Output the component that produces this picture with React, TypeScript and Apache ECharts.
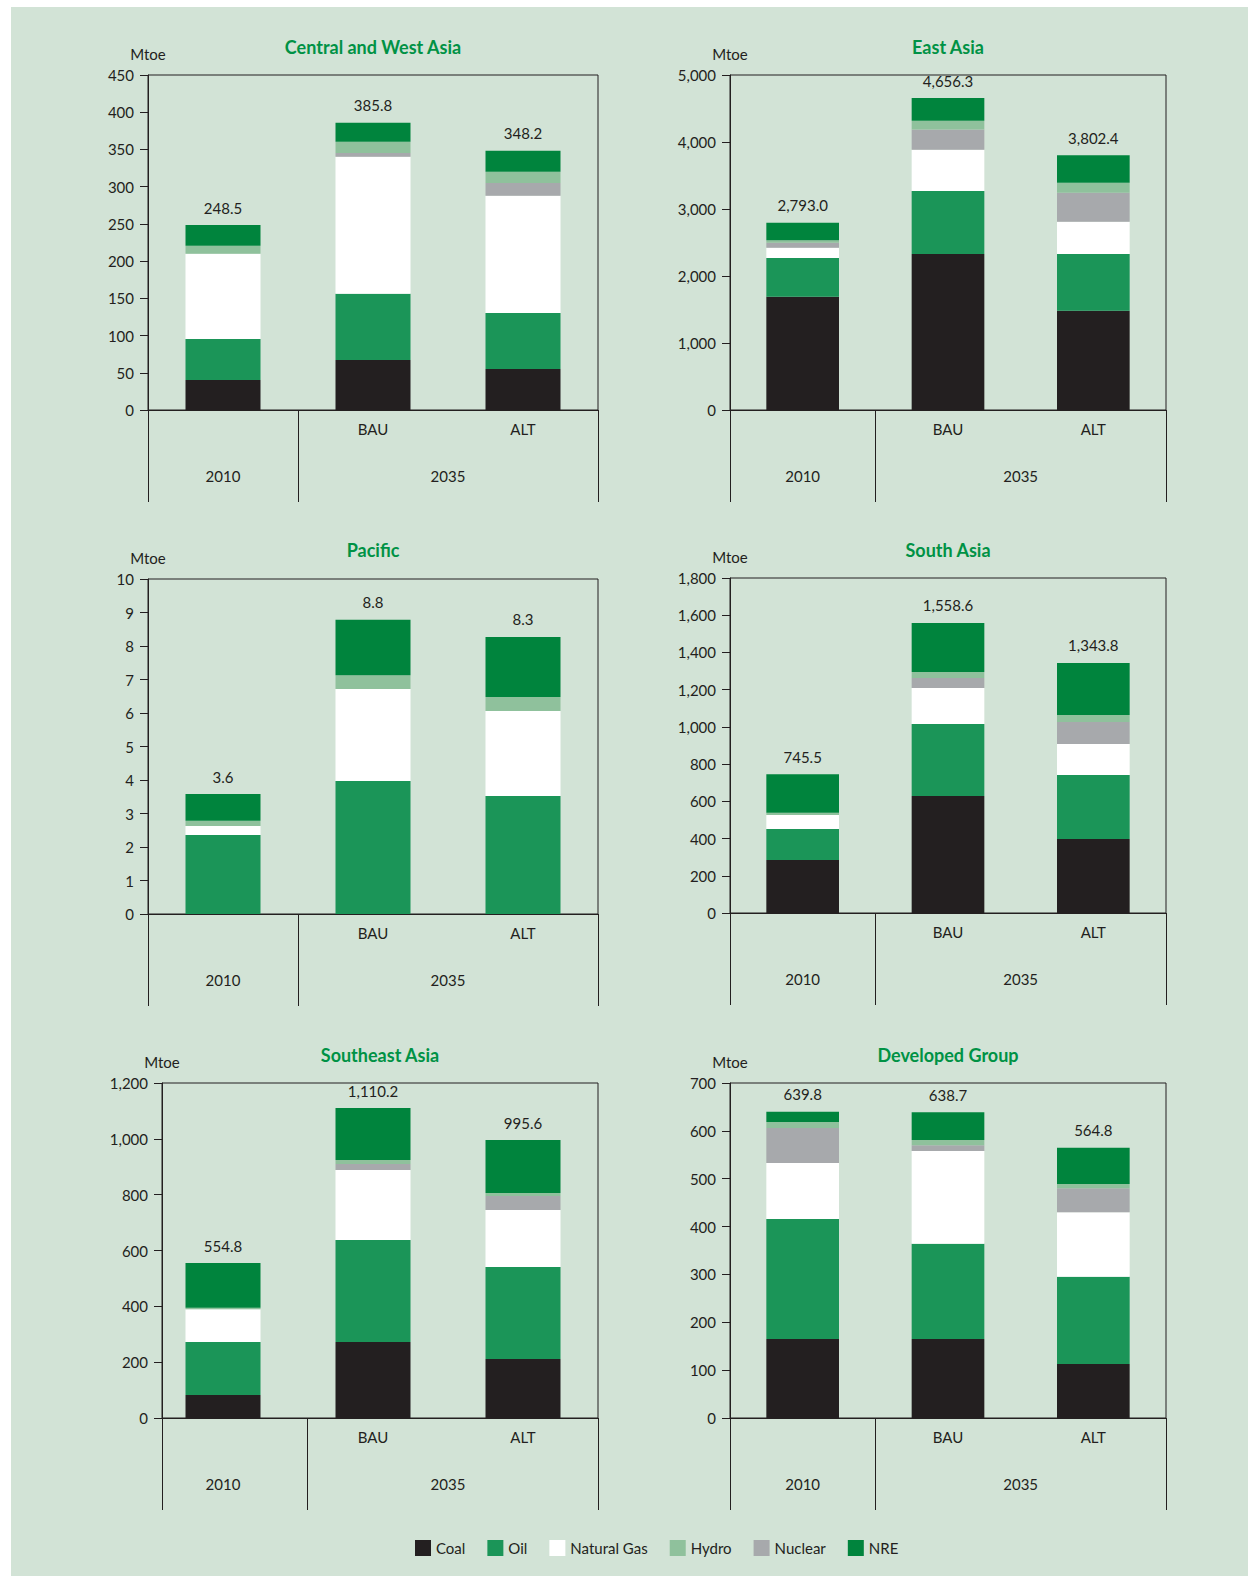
import React, { useEffect, useRef } from 'react';
import * as echarts from 'echarts';

// ---------- data ----------
// stacking order (bottom -> top)
const fuels = ['Coal', 'Oil', 'Natural Gas', 'Nuclear', 'Hydro', 'NRE'];
const legendOrder = ['Coal', 'Oil', 'Natural Gas', 'Hydro', 'Nuclear', 'NRE'];
const fuelColors = ['#231f20', '#1b9558', '#ffffff', '#a7a9ac', '#8fc19c', '#00843d'];

const scenarioLabels = ['', 'BAU', 'ALT'];
const yearSlots = ['', '2010', '', '', '2035', '', ''];

const regionTitles = ['Central and West Asia', 'East Asia', 'Pacific', 'South Asia', 'Southeast Asia', 'Developed Group'];

// rows: Coal, Oil, Natural Gas, Nuclear, Hydro, NRE ; columns: 2010, BAU, ALT
const centralWestAsia = [
  [40.3, 67.2, 55.1],
  [55.2, 88.8, 75.3],
  [114.3, 184.2, 157.4],
  [0, 4.9, 17.0],
  [10.7, 15.3, 15.2],
  [28.0, 25.4, 28.2],
];
const centralWestAsiaTotals = [248.5, 385.8, 348.2];

const eastAsia = [
  [1690, 2330, 1480],
  [580, 940, 850],
  [150, 615, 478],
  [75, 303, 433],
  [40, 130, 150],
  [258, 338.3, 411.4],
];
const eastAsiaTotals = [2793.0, 4656.3, 3802.4];

const pacific = [
  [0, 0, 0],
  [2.36, 3.97, 3.52],
  [0.27, 2.75, 2.54],
  [0, 0, 0],
  [0.15, 0.41, 0.42],
  [0.8, 1.65, 1.79],
];
const pacificTotals = [3.6, 8.8, 8.3];

const southAsia = [
  [285, 629, 398],
  [166, 387, 344],
  [76, 193, 166],
  [0, 54, 118],
  [11, 32, 38],
  [207.5, 263.6, 279.8],
];
const southAsiaTotals = [745.5, 1558.6, 1343.8];

const southeastAsia = [
  [82, 272, 211],
  [190, 366, 330],
  [118, 250, 204],
  [0, 22, 50],
  [5, 14, 11],
  [159.8, 186.2, 189.6],
];
const southeastAsiaTotals = [554.8, 1110.2, 995.6];

const developedGroup = [
  [165, 165, 113],
  [251, 199, 182],
  [117, 194, 135],
  [73, 12, 50],
  [12.5, 11, 9],
  [21.3, 57.7, 75.8],
];
const developedGroupTotals = [639.8, 638.7, 564.8];

const yMax = [450, 5000, 10, 1800, 1200, 700];
const yInterval = [50, 1000, 1, 200, 200, 100];

const regionValues = [centralWestAsia, eastAsia, pacific, southAsia, southeastAsia, developedGroup];
const regionTotals = [centralWestAsiaTotals, eastAsiaTotals, pacificTotals, southAsiaTotals, southeastAsiaTotals, developedGroupTotals];

// ---------- layout ----------
// left: frame/y-axis position; barLeft: left edge of the band used for bars
const layout = [
  { left: 148, barLeft: 148, top: 75, right: 598, zero: 410, titleY: 47 },
  { left: 730, barLeft: 730, top: 75, right: 1166, zero: 410, titleY: 47 },
  { left: 148, barLeft: 148, top: 579, right: 598, zero: 914, titleY: 550 },
  { left: 730, barLeft: 730, top: 578, right: 1166, zero: 913, titleY: 550 },
  { left: 162, barLeft: 148, top: 1083, right: 598, zero: 1418, titleY: 1055 },
  { left: 730, barLeft: 730, top: 1083, right: 1166, zero: 1418, titleY: 1055 },
];

const FONT = 'Lato, "Noto Sans", sans-serif';
const TXT = '#231f20';
const LINE = '#231f20';

function fmtTotal(v: number) {
  return v.toLocaleString('en-US', { minimumFractionDigits: 1, maximumFractionDigits: 1 });
}

function buildOption() {
  const grid: any[] = [];
  const xAxis: any[] = [];
  const yAxis: any[] = [];
  const series: any[] = [];
  const title: any[] = [];

  layout.forEach((L, p) => {
    const frameGrid = p * 2;
    const barGrid = p * 2 + 1;
    // frame grid (box, y axis, divider lines)
    grid.push({
      left: L.left,
      top: L.top,
      width: L.right - L.left,
      height: L.zero - L.top,
      show: true,
      borderColor: LINE,
      borderWidth: 1,
      backgroundColor: 'transparent',
      containLabel: false,
    });
    // bar grid
    grid.push({
      left: L.barLeft,
      top: L.top,
      width: L.right - L.barLeft,
      height: L.zero - L.top,
      show: false,
      containLabel: false,
    });
    title.push({
      text: regionTitles[p],
      left: (L.left + L.right) / 2,
      top: L.titleY - 11,
      textAlign: 'center',
      padding: 0,
      textStyle: { color: '#009245', fontSize: 18, fontWeight: 'bold', fontFamily: FONT, lineHeight: 22 },
    });
    // frame x axis: axis line + divider lines
    xAxis.push({
      type: 'category',
      gridIndex: frameGrid,
      position: 'bottom',
      data: scenarioLabels,
      boundaryGap: true,
      axisLine: { show: true, lineStyle: { color: LINE, width: 1 } },
      axisTick: {
        show: true,
        inside: false,
        length: 92,
        interval: (i: number) => i <= 1,
        lineStyle: { color: LINE, width: 1 },
      },
      axisLabel: { show: false },
      splitLine: { show: false },
    });
    // scenario axis (bars)
    xAxis.push({
      type: 'category',
      gridIndex: barGrid,
      position: 'bottom',
      data: scenarioLabels,
      boundaryGap: true,
      axisLine: { show: false },
      axisTick: { show: false },
      axisLabel: { interval: 0, margin: 11, color: TXT, fontSize: 15, fontFamily: FONT },
      splitLine: { show: false },
    });
    // year axis
    xAxis.push({
      type: 'category',
      gridIndex: p === 4 ? barGrid : frameGrid,
      position: 'bottom',
      data: yearSlots,
      boundaryGap: false,
      axisLine: { show: false },
      axisTick: { show: false },
      axisLabel: { interval: 0, margin: 58, color: TXT, fontSize: 15, fontFamily: FONT },
      splitLine: { show: false },
    });
    yAxis.push({
      type: 'value',
      gridIndex: frameGrid,
      min: 0,
      max: yMax[p],
      interval: yInterval[p],
      name: 'Mtoe',
      nameLocation: 'end',
      nameGap: 14,
      nameTextStyle: { color: TXT, fontSize: 15, fontFamily: FONT },
      axisLine: { show: true, lineStyle: { color: LINE, width: 1 } },
      axisTick: { show: true, inside: false, length: 8, lineStyle: { color: LINE, width: 1 } },
      axisLabel: {
        margin: 14,
        color: TXT,
        fontSize: 15,
        fontFamily: FONT,
        formatter: (v: number) => v.toLocaleString('en-US'),
      },
      splitLine: { show: false },
    });
    yAxis.push({
      type: 'value',
      gridIndex: barGrid,
      min: 0,
      max: yMax[p],
      interval: yInterval[p],
      show: false,
      splitLine: { show: false },
    });

    const values = regionValues[p];
    const totals = regionTotals[p];
    fuels.forEach((fuel, f) => {
      const isTop = f === fuels.length - 1;
      series.push({
        type: 'bar',
        name: fuel,
        xAxisIndex: p * 3 + 1,
        yAxisIndex: p * 2 + 1,
        stack: 'region' + p,
        barWidth: '50%',
        data: values[f],
        itemStyle: { color: fuelColors[f] },
        label: isTop
          ? {
              show: true,
              position: 'top',
              distance: 10,
              color: TXT,
              fontSize: 15,
              fontFamily: FONT,
              formatter: (prm: any) => fmtTotal(totals[prm.dataIndex]),
            }
          : { show: false },
        emphasis: { disabled: true },
      });
    });
  });

  return {
    animation: false,
    backgroundColor: 'transparent',
    textStyle: { fontFamily: FONT },
    title,
    grid,
    xAxis,
    yAxis,
    series,
    legend: {
      data: legendOrder.map((n) => ({ name: n, icon: 'rect' })),
      left: 415,
      top: 1540,
      itemWidth: 16,
      itemHeight: 16,
      itemGap: 22,
      padding: 0,
      selectedMode: false,
      textStyle: { color: TXT, fontSize: 15, fontFamily: FONT },
    },
  };
}

export default function App() {
  const ref = useRef<HTMLDivElement>(null);
  useEffect(() => {
    document.body.style.margin = '0';
    if (!ref.current) return;
    const chart = echarts.init(ref.current, undefined, { renderer: 'svg' });
    chart.setOption(buildOption() as any);
    return () => chart.dispose();
  }, []);
  return (
    <div style={{ position: 'absolute', left: 0, top: 0, width: 1248, height: 1576, background: '#ffffff', overflow: 'hidden' }}>
      <div style={{ position: 'absolute', left: 11, top: 7, width: 1237, height: 1569, background: '#d2e3d6' }} />
      <div ref={ref} style={{ position: 'absolute', left: 0, top: 0, width: 1248, height: 1576 }} />
    </div>
  );
}
